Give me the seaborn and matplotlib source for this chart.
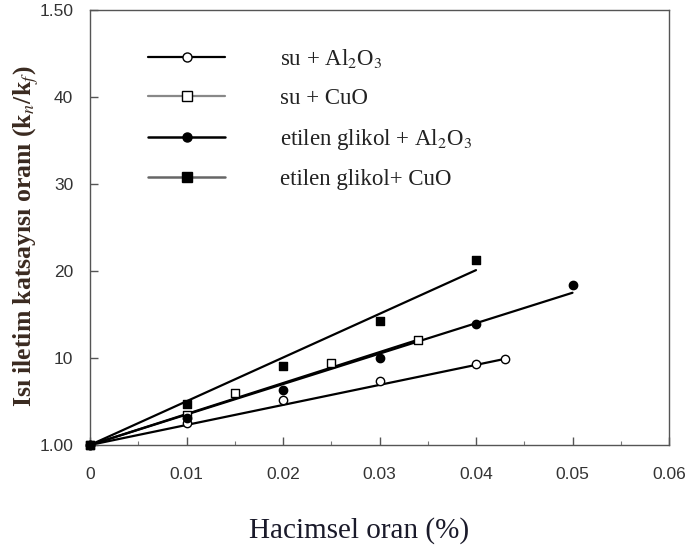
import matplotlib
matplotlib.use("Agg")
import matplotlib.pyplot as plt
from matplotlib.lines import Line2D
from matplotlib.ticker import MultipleLocator
import seaborn as sns
import pandas as pd

# ---- data ----
labels = ["su + Al$_2$O$_3$", "su + CuO", "etilen glikol + Al$_2$O$_3$", "etilen glikol+ CuO"]

su_al_x = [0, 0.01, 0.02, 0.03, 0.04, 0.043]
su_al_y = [1.0, 1.025, 1.052, 1.073, 1.093, 1.099]

su_cu_x = [0, 0.01, 0.015, 0.025, 0.034]
su_cu_y = [1.0, 1.035, 1.060, 1.094, 1.121]

eg_al_x = [0, 0.01, 0.02, 0.03, 0.04, 0.05]
eg_al_y = [1.0, 1.031, 1.063, 1.100, 1.139, 1.184]

eg_cu_x = [0, 0.01, 0.02, 0.03, 0.04]
eg_cu_y = [1.0, 1.047, 1.091, 1.143, 1.213]

# fitted straight lines (end points)
fit_su_al_x = [0, 0.043]
fit_su_al_y = [1.0, 1.099]
fit_su_cu_x = [0, 0.034]
fit_su_cu_y = [1.0, 1.121]
fit_eg_al_x = [0, 0.05]
fit_eg_al_y = [1.0, 1.175]
fit_eg_cu_x = [0, 0.04]
fit_eg_cu_y = [1.0, 1.201]

x_ticks = [0, 0.01, 0.02, 0.03, 0.04, 0.05, 0.06]
x_ticklabels = ["0", "0.01", "0.02", "0.03", "0.04", "0.05", "0.06"]
y_ticks = [1.0, 1.1, 1.2, 1.3, 1.4, 1.5]
y_ticklabels = ["1.00", "10", "20", "30", "40", "1.50"]

sns.set_theme(style="ticks")
plt.rcParams["mathtext.fontset"] = "stix"
plt.rcParams["font.family"] = ["Liberation Serif", "DejaVu Serif"]

fig = plt.figure(figsize=(6.88, 5.56), dpi=100)
ax = fig.add_axes([90/688, 1-445/556, (669-90)/688, (445-10)/556])

series = [
    (su_al_x, su_al_y, fit_su_al_x, fit_su_al_y, "o", "white"),
    (su_cu_x, su_cu_y, fit_su_cu_x, fit_su_cu_y, "s", "white"),
    (eg_al_x, eg_al_y, fit_eg_al_x, fit_eg_al_y, "o", "black"),
    (eg_cu_x, eg_cu_y, fit_eg_cu_x, fit_eg_cu_y, "s", "black"),
]

for (px, py, fx, fy, mk, fc), lab in zip(series, labels):
    sns.lineplot(x=fx, y=fy, ax=ax, color="black", linewidth=1.6, estimator=None, sort=False)
    sns.scatterplot(x=px, y=py, ax=ax, marker=mk, s=36, facecolor=fc, edgecolor="black",
                    linewidth=1.0, zorder=5, clip_on=False)

ax.set_xlim(0, 0.06)
ax.set_ylim(1.0, 1.5)
ax.set_xticks(x_ticks)
ax.set_xticklabels(x_ticklabels)
ax.set_yticks(y_ticks)
ax.set_yticklabels(y_ticklabels)
ax.xaxis.set_minor_locator(MultipleLocator(0.005))

for sp in ax.spines.values():
    sp.set_visible(True)
    sp.set_color("#555555")
    sp.set_linewidth(1.0)

ax.tick_params(axis="both", which="major", direction="in", length=6, width=1.0, color="#555555",
               labelsize=12.5, labelcolor="#333333", top=False, right=False)
ax.tick_params(axis="x", which="major", pad=16)
ax.tick_params(axis="y", which="major", pad=12)
ax.tick_params(axis="x", which="minor", direction="in", length=3, width=0.8, color="#777777", top=False)
for t in ax.get_xticklabels() + ax.get_yticklabels():
    t.set_family(["Liberation Sans", "DejaVu Sans"])

ax.set_xlabel("Hacimsel oran (%)", fontsize=21, color="#1a1a2a")
ax.xaxis.set_label_coords(0.465, -0.165)
ax.set_ylabel("Isı iletim katsayısı oranı (k$_n$/k$_f$)", fontsize=18.5, fontweight="bold",
              color="#3a2a20")
ax.yaxis.set_label_coords(-0.085, 0.48)

handles = [
    Line2D([], [], color="black", lw=1.6, marker="o", markersize=6.5, markerfacecolor="white", markeredgecolor="black"),
    Line2D([], [], color="#888888", lw=1.6, marker="s", markersize=6.5, markerfacecolor="white", markeredgecolor="black"),
    Line2D([], [], color="black", lw=1.8, marker="o", markersize=6.5, markerfacecolor="black", markeredgecolor="black"),
    Line2D([], [], color="#666666", lw=1.8, marker="s", markersize=6.5, markerfacecolor="black", markeredgecolor="black"),
]
leg = ax.legend(handles, labels, loc="upper left", bbox_to_anchor=(0.085, 0.935), frameon=False,
                fontsize=16.5, handlelength=3.36, handletextpad=2.4, labelspacing=0.77, borderaxespad=0)
for t in leg.get_texts():
    t.set_color("#222222")

fig.savefig("out.png", dpi=100)
